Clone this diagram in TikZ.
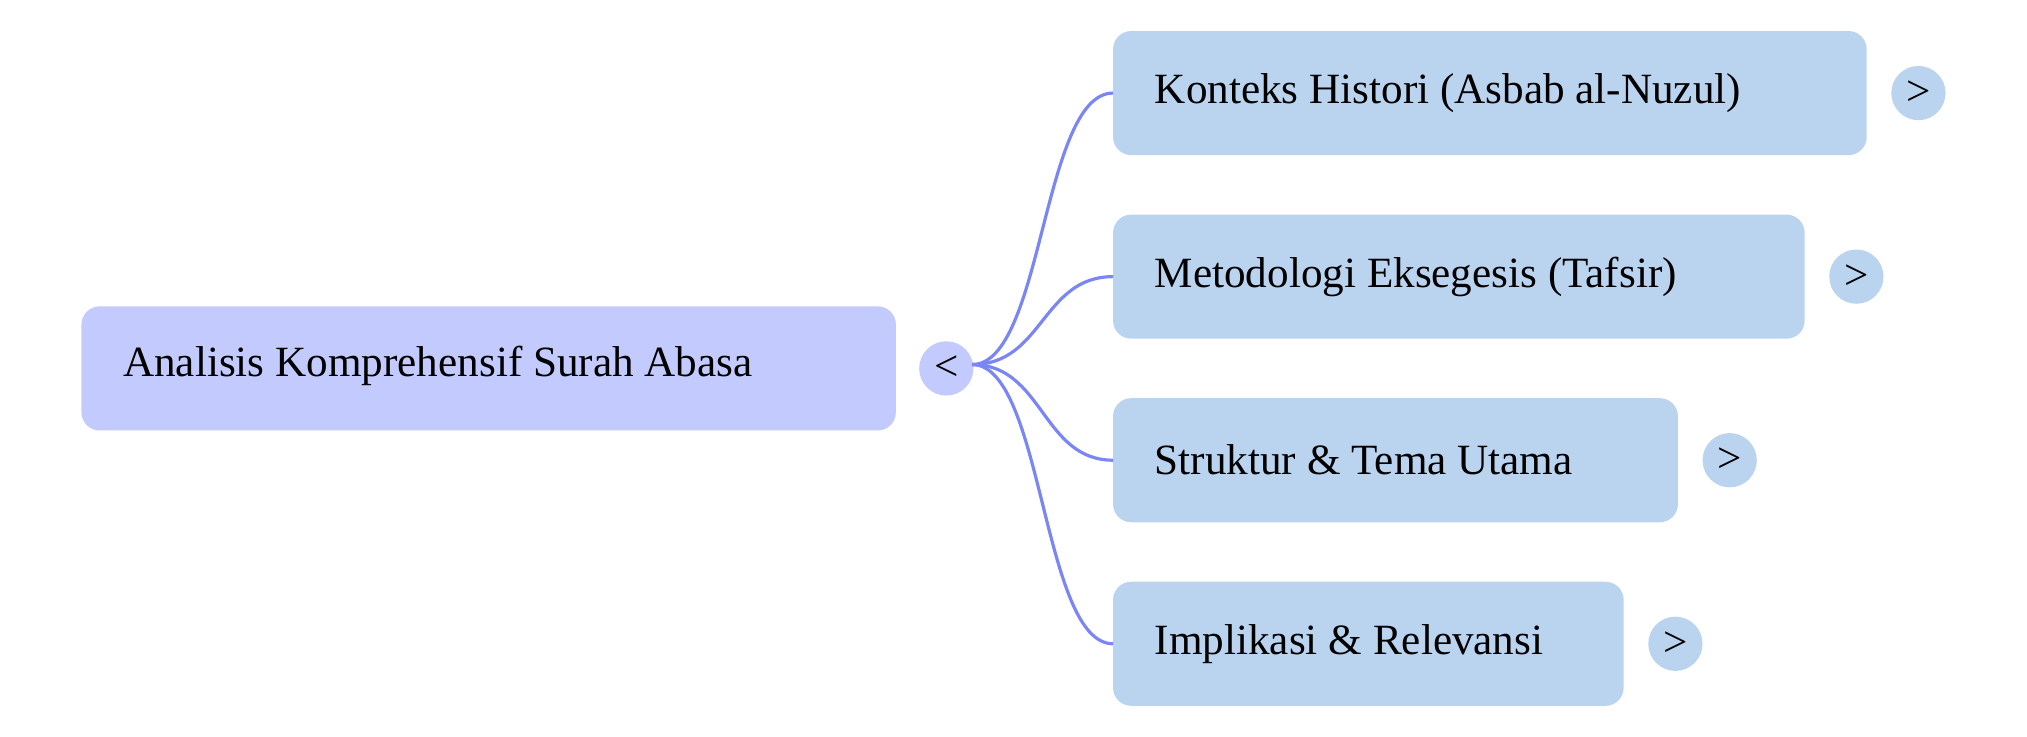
\documentclass[tikz,border=0pt]{standalone}
\usepackage{fontspec}
\setmainfont{Liberation Serif}
\begin{document}
\begin{tikzpicture}[x=0.02cm,y=-0.02cm,
  box/.style={rounded corners=8pt, inner sep=0pt},
  lbl/.style={anchor=west, font=\fontsize{19pt}{22pt}\selectfont, inner sep=0pt},
  tog/.style={circle, minimum size=0.84cm, inner sep=0pt, font=\fontsize{19pt}{22pt}\selectfont},
  conn/.style={draw=edgec, line width=1.4pt}]
\definecolor{rootc}{HTML}{C3CAFD}
\definecolor{childc}{HTML}{BAD4F0}
\definecolor{edgec}{HTML}{7B86F5}
\useasboundingbox (0,0) rectangle (1568,570);
\fill[rootc, rounded corners=8pt] (63,237) rectangle (693,333);
\node[lbl] (root) at (95,283) {Analisis Komprehensif Surah Abasa};
\node[tog, fill=rootc] (t0) at (732,285) {<};
\coordinate (s) at (752,282);
\foreach \i/\r/\y/\t/\cx in {1/1444/72/{Konteks Histori (Asbab al-Nuzul)}/1484,
  2/1396/214/{Metodologi Eksegesis (Tafsir)}/1436,
  3/1298/356/{Struktur \& Tema Utama}/1338,
  4/1256/498/{Implikasi \& Relevansi}/1296}{
  \fill[childc, rounded corners=8pt] (861,\y-48) rectangle (\r,\y+48);
  \coordinate (e\i) at (861,\y);
  \node[lbl] (c\i) at (893,\y) {\t};
  \node[tog, fill=childc] (t\i) at (\cx,\y) {>};
  \draw[conn] (s) .. controls +(55,0) and +(-55,0) .. (e\i);
}
\end{tikzpicture}
\end{document}
